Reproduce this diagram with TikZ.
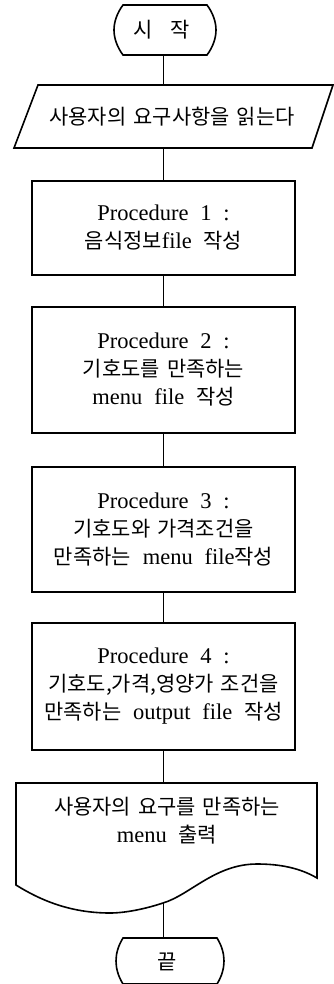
\documentclass[tikz,border=0pt]{standalone}
\usepackage{fontspec}
\setmainfont[WordSpace=2.1]{Liberation Serif}
\newfontfamily\kr[Scale=0.93,WordSpace=1.5]{Noto Sans CJK KR}
\newcommand\latfs{\fontsize{22.5}{28}\selectfont}
\begin{document}
\begin{tikzpicture}[x=1pt,y=-1pt,line width=1.6pt,
  every node/.style={inner sep=0pt,outer sep=0pt},
  frame/.style={minimum width=#1},
  lbl/.style={align=center,font=\latfs},
  procbox/.style={draw,minimum width=263pt,align=center,font=\latfs}]
\useasboundingbox (0,0) rectangle (333,984);
% frames (invisible, used for connectors)
\node[frame=102pt,minimum height=50pt] (start) at (165,30) {};
\node[frame=320pt,minimum height=63pt] (inp) at (173.5,116.5) {};
\node[procbox,minimum height=94pt] (box1) at (163.5,228) {Procedure 1 :\\{\kr 음식정보}file {\kr 작성}};
\node[procbox,minimum height=126pt] (box2) at (163.5,370) {Procedure 2 :\\{\kr 기호도를 만족하는}\\menu file {\kr 작성}};
\node[procbox,minimum height=125pt] (box3) at (163.5,529.5) {Procedure 3 :\\{\kr 기호도와 가격조건을}\\{\kr 만족하는} menu file{\kr 작성}};
\node[procbox,minimum height=127pt] (box4) at (163.5,686.5) {Procedure 4 :\\{\kr 기호도,가격,영양가 조건을}\\{\kr 만족하는} output file {\kr 작성}};
\node[frame=301pt,minimum height=120pt] (doc) at (163.5,843) {};
\node[frame=108pt,minimum height=46pt] (fin) at (170,961) {};
% outlines
\draw (123,5) -- (207,5) .. controls (213,13) and (216,22) .. (216,30)
  .. controls (216,38) and (213,47) .. (207,55) -- (123,55)
  .. controls (117,47) and (114,38) .. (114,30)
  .. controls (114,22) and (117,13) .. (123,5) -- cycle;
\draw (38,85) -- (333,85) -- (312,148) -- (14,148) -- cycle;
\draw (16,783) -- (317,783) -- (317,878)
  .. controls (300,868) and (280,864) .. (257,864)
  .. controls (215,864) and (190,895) .. (163,903)
  .. controls (145,909) and (125,913) .. (110,913)
  .. controls (70,913) and (40,900) .. (16,885) -- cycle;
\draw (123,938) -- (217,938) .. controls (222,946) and (224,954) .. (224,961)
  .. controls (224,968) and (222,976) .. (217,984) -- (123,984)
  .. controls (118,976) and (116,968) .. (116,961)
  .. controls (116,954) and (118,946) .. (123,938) -- cycle;
% texts
\node[lbl] (starttxt) at (162,30) {\kr 시\hspace{18pt}작};
\node[lbl] (inptxt) at (172,117) {\kr 사용자의 요구사항을 읽는다};
\node[lbl] (doctxt) at (167,821) {{\kr 사용자의 요구를 만족하는}\\menu {\kr 출력}};
\node[lbl] (fintxt) at (167,962) {\kr 끝};
% connectors
\draw (box1.north |- start.south) -- (box1.north |- inp.north);
\draw (box1.north |- inp.south) -- (box1.north);
\draw (box1.south) -- (box2.north);
\draw (box2.south) -- (box3.north);
\draw (box3.south) -- (box4.north);
\draw (box4.south) -- (box4.south |- doc.north);
\draw (doc.south) -- (doc.south |- fin.north);
\end{tikzpicture}
\end{document}
